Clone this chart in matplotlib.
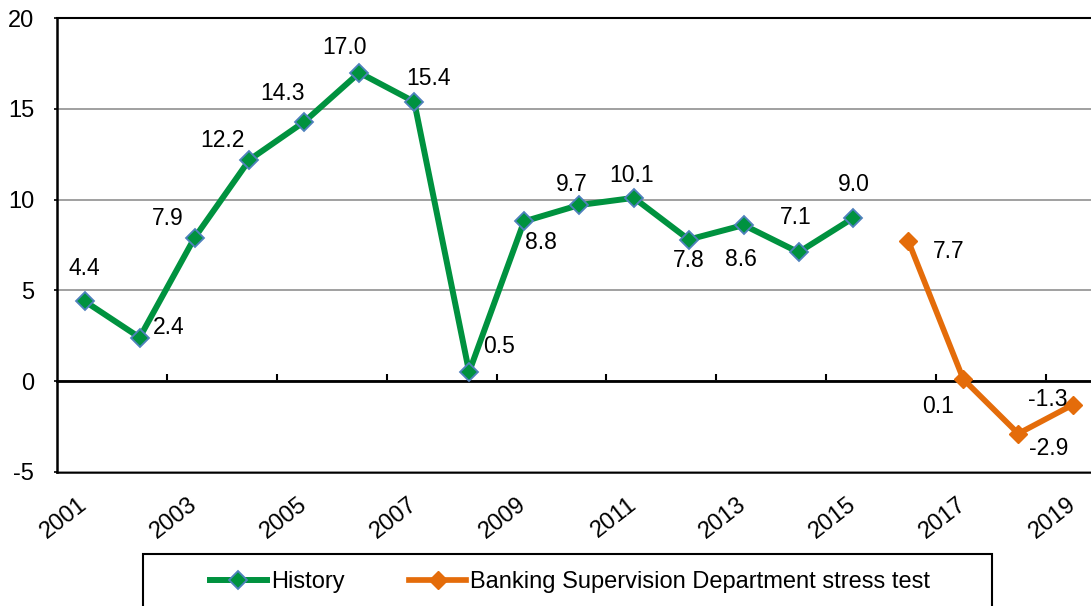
import matplotlib
matplotlib.use('Agg')
import matplotlib.pyplot as plt
from matplotlib.patches import Rectangle

plt.rcParams['font.family'] = ['Liberation Sans', 'DejaVu Sans']
plt.rcParams['axes.unicode_minus'] = False

years = list(range(2001, 2020))
tick_years = years[::2]
history_years = list(range(2001, 2016))
history = [4.4, 2.4, 7.9, 12.2, 14.3, 17.0, 15.4, 0.5, 8.8, 9.7, 10.1, 7.8, 8.6, 7.1, 9.0]
stress_years = [2016, 2017, 2018, 2019]
stress = [7.7, 0.1, -2.9, -1.3]

# label offsets (pixels, dx, dy) as placed in the original
history_offsets = [(0, 33), (29, 10), (-27, 19), (-27, 19), (-22, 28), (-15, 25),
                   (14, 23), (30, 25), (17, -21), (-7, 21), (-2, 22), (0, -21),
                   (-3, -34), (-3, 35), (0, 33)]
stress_offsets = [(40, -10), (-25, -27), (30, -15), (-25, 5)]

green = '#00923F'
orange = '#E46C0A'
blue_edge = '#4F81BD'

fig = plt.figure(figsize=(10.91, 6.06), dpi=100)
ax = fig.add_axes([0.0525, 0.2216, 0.9563, 0.7482])

l1, = ax.plot(history_years, history, color=green, lw=4.3, marker='D', ms=9,
              mfc=green, mec=blue_edge, mew=1.3, label='History', zorder=3)
l2, = ax.plot(stress_years, stress, color=orange, lw=4.1, marker='D', ms=9.5,
              mfc=orange, mec=orange, mew=1, zorder=3,
              label='Banking Supervision Department stress test')

for yr, v, (dx, dy) in zip(history_years, history, history_offsets):
    ax.annotate(f'{v:.1f}', (yr, v), xytext=(dx, dy), textcoords='offset pixels',
                ha='center', va='center', fontsize=16.5)
for yr, v, (dx, dy) in zip(stress_years, stress, stress_offsets):
    ax.annotate(f'{v:.1f}', (yr, v), xytext=(dx, dy), textcoords='offset pixels',
                ha='center', va='center', fontsize=16.5)

ax.set_xlim(years[0] - 0.5, years[-1] + 0.5)
ax.set_ylim(-5, 20)
ax.set_yticks(range(-5, 21, 5))
ax.tick_params(axis='y', labelsize=17, length=2.5, width=1.2, pad=14)
ax.yaxis.grid(True, color='#999999', lw=1.3)
ax.set_axisbelow(True)

# x axis line at zero, tick marks between every second pair of years
ax.spines['bottom'].set_position(('data', 0))
ax.spines['bottom'].set_linewidth(2)
ax.set_xticks([y + 1.5 for y in years[:-2:2]])
ax.tick_params(axis='x', direction='in', length=5, width=1.5, labelbottom=False)
ax.spines['left'].set_linewidth(1.8)
ax.spines['top'].set_linewidth(1.5)
ax.spines['right'].set_visible(False)

sec = ax.secondary_xaxis('bottom')
sec.set_xticks(tick_years, labels=[str(y) for y in tick_years])
sec.tick_params(length=0, labelsize=17, pad=22)
sec.spines['bottom'].set_linewidth(1.8)
for lab in sec.get_xticklabels():
    lab.set_rotation(38)
    lab.set_ha('right')
    lab.set_va('center')
    lab.set_rotation_mode('anchor')

fig.legend(handles=[l1, l2], loc='center', bbox_to_anchor=(570 / 1091, 1 - 582 / 606),
           ncol=2, frameon=False, fontsize=17, handlelength=2.4,
           handletextpad=0.17, columnspacing=2.75)
fig.patches.append(Rectangle((143 / 1091, 1 - 620 / 606), (992 - 143) / 1091, 66 / 606,
                             transform=fig.transFigure, fill=False, lw=1.5, ec='black'))

fig.savefig('out.png', dpi=100)
